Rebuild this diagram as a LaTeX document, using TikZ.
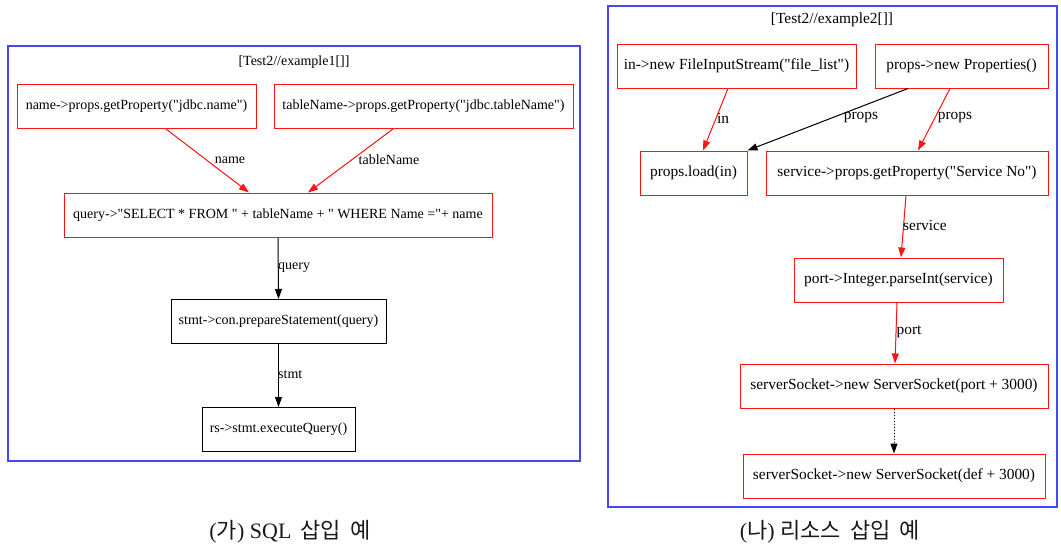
\documentclass[tikz,border=0pt]{standalone}
\usepackage{fontspec}
\setmainfont[Ligatures=TeXOff]{Liberation Serif}
\newfontfamily\cjk{Noto Sans CJK KR}
\usetikzlibrary{arrows.meta}
\definecolor{gvred}{RGB}{255,20,20}
\definecolor{gvblue}{RGB}{70,70,245}
\tikzset{
  box/.style={draw=gvred, line width=1pt, rectangle, inner sep=0pt, minimum height=44pt, font=\fontsize{14}{16}\selectfont},
  bbox/.style={box, draw=black},
  lbl/.style={inner sep=0pt, font=\fontsize{14}{16}\selectfont},
  rfont/.style={font=\fontsize{15.4}{17}\selectfont},
  redarr/.style={draw=gvred, line width=1pt, -{Triangle[length=10pt,width=7pt]}, fill=gvred},
  blkarr/.style={draw=black, line width=1pt, -{Triangle[length=10pt,width=7pt]}},
  cluster/.style={draw=gvblue, line width=1.2pt},
  captext/.style={inner sep=0pt, font=\fontsize{22}{26}\selectfont, text=black!90}
}
\begin{document}
\begin{tikzpicture}[x=1pt,y=-1pt]
\useasboundingbox (0,0) rectangle (1061,549);
% ---------- left cluster ----------
\draw[cluster] (8,46) rectangle (580,461);
\node[lbl] (t1) at (294,62) {[Test2//example1[]]};
\node[box, minimum width=239pt] (name) at (136.5,106.5) {name->props.getProperty("jdbc.name")};
\node[box, minimum width=299pt] (tname) at (423.5,106.5) {tableName->props.getProperty("jdbc.tableName")};
\node[box, minimum width=428pt] (query) at (278,215) {query->"SELECT * FROM " + tableName + " WHERE Name ="+ name};
\node[bbox, minimum width=215pt] (stmt) at (278.5,321.5) {stmt->con.prepareStatement(query)};
\node[bbox, minimum width=153pt] (rs) at (278.5,429.5) {rs->stmt.executeQuery()};
\draw[redarr] ([xshift=29.5pt]name.south) -- ([xshift=-29pt]query.north);
\draw[redarr] ([xshift=-30.5pt]tname.south) -- ([xshift=30pt]query.north);
\draw[blkarr] (query.south) -- (stmt.north);
\draw[blkarr] (stmt.south) -- (rs.north);
\node[lbl] (lname) at (230,160) {name};
\node[lbl] (ltname) at (389,160) {tableName};
\node[lbl, anchor=west] (lquery) at (278,268) {query};
\node[lbl, anchor=west] (lstmt) at (278,375) {stmt};
% ---------- right cluster ----------
\draw[cluster] (608,6) rectangle (1057,507);
\node[lbl, rfont] (t2) at (832,20) {[Test2//example2[]]};
\node[box, rfont, minimum width=239pt] (in) at (736.5,66) {in->new FileInputStream("file\_list")};
\node[box, rfont, minimum width=173pt] (props) at (961.5,66) {props->new Properties()};
\node[box, rfont, minimum width=107pt] (load) at (693.5,173) {props.load(in)};
\node[box, rfont, minimum width=282pt] (service) at (907,173) {service->props.getProperty("Service No")};
\node[box, rfont, minimum width=209pt] (port) at (898.5,280) {port->Integer.parseInt(service)};
\node[box, rfont, minimum width=308pt] (ssa) at (894,386) {serverSocket->new ServerSocket(port + 3000)};
\node[box, rfont, minimum width=302pt] (ssb) at (894,476) {serverSocket->new ServerSocket(def + 3000)};
\draw[redarr] ([xshift=-8.5pt]in.south) -- ([xshift=9.5pt]load.north);
\draw[blkarr, fill=black] ([xshift=-53.5pt]props.south) -- (load.north east);
\draw[redarr] ([xshift=-11.5pt]props.south) -- ([xshift=11pt]service.north);
\draw[redarr] ([xshift=-1pt]service.south) -- ([xshift=2.5pt]port.north);
\draw[redarr] ([xshift=-1.5pt]port.south) -- ([xshift=1pt]ssa.north);
\draw[blkarr, fill=black, dotted] (ssa.south) -- (ssb.north);
\node[lbl, rfont] (lin) at (723,118) {in};
\node[lbl, rfont] (lpropsa) at (861,118) {props};
\node[lbl, rfont] (lpropsb) at (955,118) {props};
\node[lbl, rfont] (lservice) at (925,225) {service};
\node[lbl, rfont] (lport) at (909,332) {port};
% ---------- captions ----------
\node[captext] (c1) at (290,532) {({\cjk 가}) SQL\, {\cjk 삽입}\, {\cjk 예}};
\node[captext] (c2) at (830,532) {({\cjk 나}) {\cjk 리소스}\, {\cjk 삽입}\, {\cjk 예}};
\end{tikzpicture}
\end{document}
